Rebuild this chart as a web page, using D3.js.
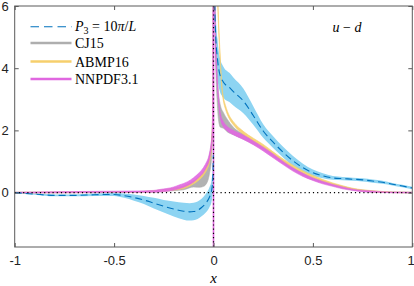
<!DOCTYPE html>
<html><head><meta charset="utf-8">
<script src="https://cdn.jsdelivr.net/npm/d3@7"></script>
<style>body{margin:0;background:#fff}svg{display:block}</style>
</head><body>
<svg id="c" width="414" height="286"></svg>
<script>
// ---- data ----
const xTicks = [-1, -0.5, 0, 0.5, 1];
const xTickLabels = ["-1", "-0.5", "0", "0.5", "1"];
const yTicks = [0, 2, 4, 6];
const yTickLabels = ["0", "2", "4", "6"];
const legendLabels = ["CJ15", "ABMP16", "NNPDF3.1"];

// lattice P3 = 10π/L, negative x
const latNegX   = [-1, -0.9, -0.8, -0.7, -0.6, -0.5, -0.45, -0.4, -0.35, -0.3, -0.25, -0.2, -0.15, -0.12, -0.1, -0.08, -0.06, -0.04, -0.02, -0.01, -0.004, -0.001];
const latNegY   = [0, -0.05, -0.09, -0.09, -0.07, -0.06, -0.1, -0.16, -0.24, -0.34, -0.44, -0.53, -0.6, -0.62, -0.61, -0.57, -0.48, -0.35, -0.14, 0.05, 0.4, 1.2];
const latNegErr = [0.02, 0.02, 0.03, 0.03, 0.04, 0.05, 0.07, 0.1, 0.13, 0.17, 0.2, 0.24, 0.27, 0.28, 0.28, 0.28, 0.28, 0.3, 0.32, 0.35, 0.4, 0.5];
// lattice, positive x
const latPosX   = [0.002, 0.01, 0.02, 0.03, 0.05, 0.08, 0.1, 0.15, 0.2, 0.25, 0.3, 0.35, 0.4, 0.45, 0.5, 0.55, 0.6, 0.65, 0.7, 0.75, 0.8, 0.85, 0.9, 0.95, 1.0];
const latPosY   = [7.5, 5.2, 4.3, 3.85, 3.55, 3.38, 3.25, 2.95, 2.48, 1.98, 1.62, 1.3, 1.02, 0.8, 0.64, 0.54, 0.47, 0.45, 0.43, 0.41, 0.37, 0.33, 0.27, 0.21, 0.15];
const latPosErr = [0.9, 0.8, 0.65, 0.55, 0.5, 0.47, 0.45, 0.4, 0.3, 0.22, 0.19, 0.17, 0.16, 0.13, 0.1, 0.08, 0.06, 0.05, 0.05, 0.05, 0.05, 0.05, 0.04, 0.04, 0.04];

// CJ15
const cjNegX   = [-1, -0.6, -0.4, -0.3, -0.2, -0.15, -0.1, -0.07, -0.05, -0.03, -0.02, -0.01, -0.005, -0.002, -0.0008];
const cjNegY   = [0, 0.01, 0.02, 0.04, 0.1, 0.15, 0.28, 0.35, 0.42, 0.66, 0.92, 1.4, 2.2, 3.5, 7];
const cjNegErr = [0.01, 0.01, 0.01, 0.02, 0.04, 0.06, 0.1, 0.18, 0.22, 0.3, 0.3, 0.3, 0.3, 0.3, 0.3];
const cjPosX   = [0.004, 0.008, 0.012, 0.018, 0.025, 0.035, 0.05, 0.07, 0.1, 0.15, 0.2, 0.25, 0.3, 0.35, 0.4, 0.45, 0.5, 0.55, 0.6, 0.65, 0.7, 0.75, 0.8, 0.9, 1.0];
const cjPosY   = [7.5, 5.5, 4.4, 3.5, 2.8, 2.45, 2.32, 2.15, 1.98, 1.8, 1.62, 1.43, 1.21, 0.98, 0.77, 0.59, 0.45, 0.34, 0.25, 0.17, 0.1, 0.06, 0.03, 0.01, 0];
const cjPosErr = [0.5, 0.5, 0.5, 0.5, 0.45, 0.35, 0.25, 0.2, 0.12, 0.08, 0.06, 0.05, 0.05, 0.05, 0.05, 0.04, 0.04, 0.03, 0.03, 0.03, 0.02, 0.02, 0.02, 0.01, 0.01];

// ABMP16
const abNegX   = [-1, -0.6, -0.4, -0.3, -0.2, -0.15, -0.1, -0.07, -0.05, -0.03, -0.02, -0.01, -0.005, -0.002, -0.0008];
const abNegY   = [0, 0.01, 0.02, 0.04, 0.11, 0.17, 0.33, 0.47, 0.62, 0.85, 1.05, 1.5, 2.2, 3.5, 7];
const abNegErr = [0.01, 0.01, 0.01, 0.02, 0.03, 0.04, 0.05, 0.05, 0.06, 0.07, 0.08, 0.1, 0.12, 0.15, 0.2];
const abPosX   = [0.015, 0.025, 0.033, 0.042, 0.05, 0.06, 0.08, 0.1, 0.15, 0.2, 0.25, 0.3, 0.35, 0.4, 0.45, 0.5, 0.55, 0.6, 0.65, 0.7, 0.75, 0.8, 0.9, 1.0];
const abPosY   = [7.5, 5.5, 4.4, 3.4, 3.0, 2.75, 2.42, 2.23, 1.92, 1.7, 1.5, 1.26, 1.04, 0.84, 0.66, 0.51, 0.39, 0.28, 0.19, 0.12, 0.07, 0.04, 0.01, 0];
const abPosErr = [0.1, 0.1, 0.08, 0.07, 0.06, 0.06, 0.05, 0.05, 0.05, 0.05, 0.05, 0.05, 0.04, 0.04, 0.04, 0.04, 0.03, 0.03, 0.03, 0.02, 0.02, 0.02, 0.01, 0.01];

// NNPDF3.1
const nnNegX   = [-1, -0.6, -0.4, -0.3, -0.27, -0.2, -0.17, -0.13, -0.1, -0.075, -0.05, -0.035, -0.025, -0.015, -0.008, -0.004, -0.002, -0.0008];
const nnNegY   = [0, 0.02, 0.03, 0.04, 0.06, 0.13, 0.19, 0.29, 0.41, 0.55, 0.73, 0.9, 1.05, 1.35, 1.7, 2.3, 3.5, 7];
const nnNegErr = [0.01, 0.02, 0.02, 0.03, 0.04, 0.05, 0.06, 0.06, 0.07, 0.07, 0.08, 0.08, 0.09, 0.1, 0.12, 0.15, 0.2, 0.3];
const nnPosX   = [0.004, 0.008, 0.012, 0.018, 0.025, 0.035, 0.05, 0.07, 0.1, 0.15, 0.2, 0.25, 0.3, 0.35, 0.4, 0.45, 0.5, 0.55, 0.6, 0.65, 0.7, 0.75, 0.8, 0.85, 0.9, 1.0];
const nnPosY   = [7.5, 5.5, 4.4, 3.6, 3.0, 2.45, 2.2, 2.05, 1.93, 1.78, 1.6, 1.4, 1.18, 0.95, 0.74, 0.57, 0.43, 0.32, 0.23, 0.15, 0.09, 0.05, 0.03, 0.015, 0.005, 0];
const nnPosErr = [0.15, 0.15, 0.12, 0.1, 0.09, 0.08, 0.08, 0.07, 0.07, 0.07, 0.06, 0.06, 0.06, 0.05, 0.05, 0.05, 0.04, 0.04, 0.03, 0.03, 0.02, 0.02, 0.02, 0.01, 0.01, 0.01];

// ---- drawing ----
const svg = d3.select("#c");
const m = {l: 14.7, r: 412.3, t: 6, b: 247};
const x = d3.scaleLinear().domain([-1, 1]).range([m.l, m.r]);
const y = d3.scaleLinear().domain([-1.75, 6]).range([m.b, m.t]);

svg.append("defs").append("clipPath").attr("id", "clip")
  .append("rect").attr("x", m.l).attr("y", m.t).attr("width", m.r - m.l).attr("height", m.b - m.t);

const plot = svg.append("g").attr("clip-path", "url(#clip)");

function pts(xs, ys, es) { return xs.map((v, i) => ({x: v, y: ys[i], e: es ? es[i] : 0})); }
const area = d3.area().x(d => x(d.x)).y0(d => y(d.y - d.e)).y1(d => y(d.y + d.e)).curve(d3.curveMonotoneX);
const line = d3.line().x(d => x(d.x)).y(d => y(d.y)).curve(d3.curveMonotoneX);

const colBlueBand = "#8dd4f2", colBlue = "#0072BD";
const colGray = "#aeaeae", colOrange = "#f6cf6c", colMag = "#e067e0";

// lattice band
[[latNegX, latNegY, latNegErr], [latPosX, latPosY, latPosErr]].forEach(s => {
  plot.append("path").datum(pts(...s)).attr("d", area).attr("fill", colBlueBand);
});
// phenomenological bands
const pheno = [
  [colGray, [cjNegX, cjNegY, cjNegErr], [cjPosX, cjPosY, cjPosErr], 0.95],
  [colOrange, [abNegX, abNegY, abNegErr], [abPosX, abPosY, abPosErr], 0.9],
  [colMag, [nnNegX, nnNegY, nnNegErr], [nnPosX, nnPosY, nnPosErr], 0.9]
];
pheno.forEach(([c, neg, pos, op]) => {
  [neg, pos].forEach(s => {
    plot.append("path").datum(pts(...s)).attr("d", area).attr("fill", c).attr("fill-opacity", op)
      .attr("stroke", c).attr("stroke-width", 0.6);
  });
});
// vertical magenta line at x=0
plot.append("line").attr("x1", x(0)).attr("x2", x(0)).attr("y1", m.t).attr("y2", m.b)
  .attr("stroke", colMag).attr("stroke-width", 1.6);

// lattice central dashed line
[[latNegX, latNegY], [latPosX, latPosY]].forEach(s => {
  plot.append("path").datum(pts(...s)).attr("d", line).attr("fill", "none")
    .attr("stroke", colBlue).attr("stroke-width", 1.1).attr("stroke-dasharray", "7,4");
});

// dotted reference lines
plot.append("line").attr("x1", m.l).attr("x2", m.r).attr("y1", y(0)).attr("y2", y(0))
  .attr("stroke", "#000").attr("stroke-width", 1.2).attr("stroke-dasharray", "1.2,3");
plot.append("line").attr("x1", x(0)).attr("x2", x(0)).attr("y1", m.t).attr("y2", m.b)
  .attr("stroke", "#000").attr("stroke-width", 1.2).attr("stroke-dasharray", "1.2,3");

// frame
const axCol = "#5a5a5a";
svg.append("rect").attr("x", m.l).attr("y", m.t).attr("width", m.r - m.l).attr("height", m.b - m.t)
  .attr("fill", "none").attr("stroke", axCol).attr("stroke-width", 1);

// axes with inward ticks
const xb = svg.append("g").attr("transform", `translate(0,${m.b})`)
  .call(d3.axisBottom(x).tickValues(xTicks).tickSizeInner(-4).tickSizeOuter(0).tickPadding(9)
    .tickFormat((d, i) => xTickLabels[i]));
const xt = svg.append("g").attr("transform", `translate(0,${m.t})`)
  .call(d3.axisTop(x).tickValues(xTicks).tickSizeInner(-4).tickSizeOuter(0).tickFormat(""));
const yl = svg.append("g").attr("transform", `translate(${m.l},0)`)
  .call(d3.axisLeft(y).tickValues(yTicks).tickSizeInner(-4).tickSizeOuter(0).tickPadding(6)
    .tickFormat((d, i) => yTickLabels[i]));
const yr = svg.append("g").attr("transform", `translate(${m.r},0)`)
  .call(d3.axisRight(y).tickValues(yTicks).tickSizeInner(-4).tickSizeOuter(0).tickFormat(""));
[xb, xt, yl, yr].forEach(g => {
  g.select(".domain").remove();
  g.selectAll(".tick line").attr("stroke", axCol);
  g.selectAll("text").attr("font-family", "Liberation Sans, Arial, sans-serif").attr("font-size", 13).attr("fill", "#222");
});
xb.selectAll("text").attr("dy", "0.71em");
// keep the last tick label inside the picture
xb.selectAll(".tick text").filter(d => d === 1).attr("text-anchor", "end").attr("x", 2);

// axis label
svg.append("text").attr("x", x(0)).attr("y", 283).attr("text-anchor", "middle")
  .attr("font-family", "Liberation Serif, serif").attr("font-style", "italic").attr("font-size", 15)
  .text("x");

// u - d label
const ud = svg.append("text").attr("x", 347).attr("y", 32).attr("text-anchor", "middle")
  .attr("font-family", "Liberation Serif, serif").attr("font-size", 14);
ud.append("tspan").attr("font-style", "italic").text("u");
ud.append("tspan").text(" − ");
ud.append("tspan").attr("font-style", "italic").text("d");

// legend
const lg = svg.append("g").attr("font-family", "Liberation Serif, serif").attr("font-size", 14).attr("fill", "#000");
const lx0 = 30.5, lx1 = 71.5, tx = 75;
lg.append("line").attr("x1", lx0).attr("x2", lx1).attr("y1", 26.7).attr("y2", 26.7)
  .attr("stroke", colBlue).attr("stroke-width", 1.1).attr("stroke-dasharray", "8.5,5");
const t0 = lg.append("text").attr("x", tx).attr("y", 31);
t0.append("tspan").attr("font-style", "italic").text("P");
t0.append("tspan").attr("font-size", 10).attr("dy", 3).text("3");
t0.append("tspan").attr("dy", -3).text(" = 10");
t0.append("tspan").attr("font-style", "italic").text("π");
t0.append("tspan").text("/");
t0.append("tspan").attr("font-style", "italic").text("L");
const lcols = [colGray, colOrange, colMag];
const lys = [43, 61.5, 79];
legendLabels.forEach((lab, i) => {
  lg.append("line").attr("x1", lx0).attr("x2", lx1).attr("y1", lys[i]).attr("y2", lys[i])
    .attr("stroke", lcols[i]).attr("stroke-width", 2.6);
  lg.append("text").attr("x", tx).attr("y", lys[i] + 5).text(lab);
});
</script>
</body></html>
